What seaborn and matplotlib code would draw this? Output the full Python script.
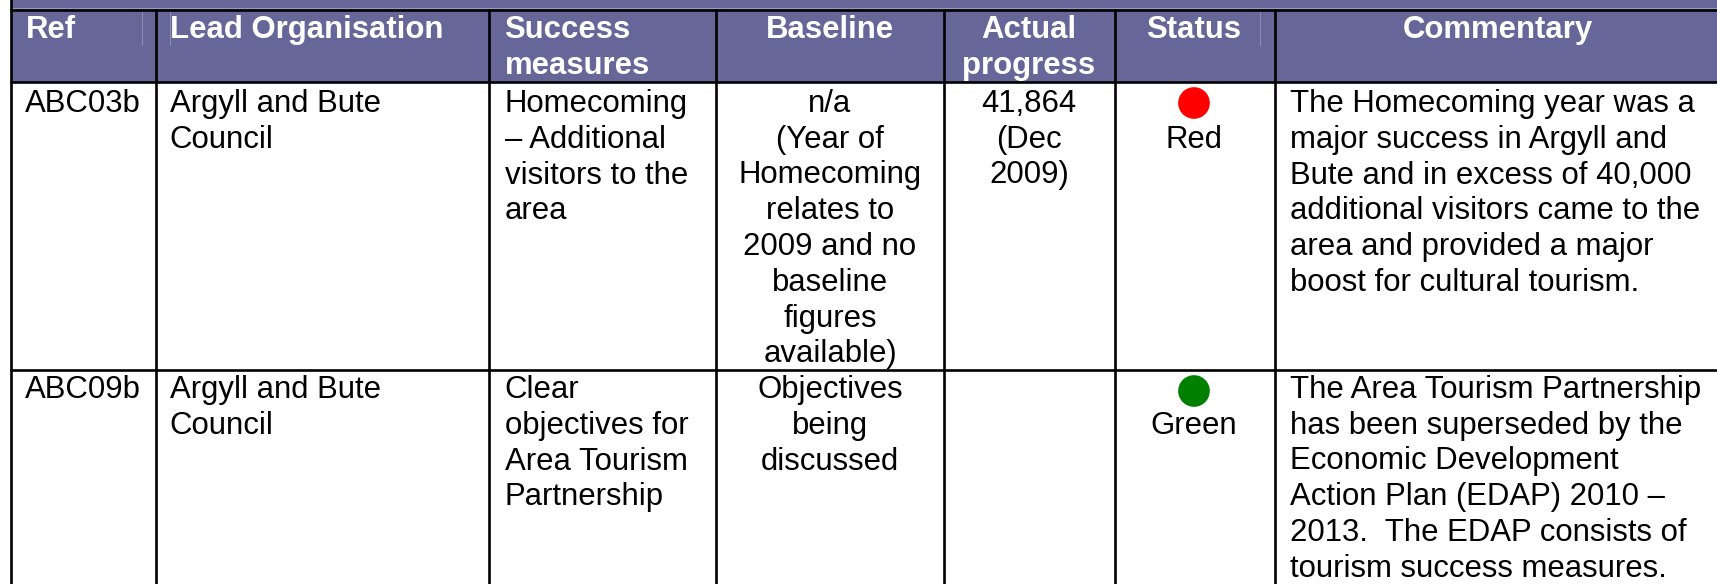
import matplotlib
matplotlib.use("Agg")
import matplotlib.pyplot as plt
import pandas as pd
import seaborn as sns

sns.set_theme(style="white")
plt.rcParams["font.family"] = ["Liberation Sans", "DejaVu Sans"]

refs = ["ABC03b", "ABC09b"]
orgs = ["Argyll and Bute\nCouncil", "Argyll and Bute\nCouncil"]
measures = ["Homecoming\n– Additional\nvisitors to the\narea",
            "Clear\nobjectives for\nArea Tourism\nPartnership"]
baselines = ["n/a\n(Year of\nHomecoming\nrelates to\n2009 and no\nbaseline\nfigures\navailable)",
             "Objectives\nbeing\ndiscussed"]
progress = ["41,864\n(Dec\n2009)", ""]
statuses = ["Red", "Green"]
status_colors = ["#ff0000", "#008000"]
comments = ["The Homecoming year was a\nmajor success in Argyll and\nBute and in excess of 40,000\nadditional visitors came to the\narea and provided a major\nboost for cultural tourism.",
            "The Area Tourism Partnership\nhas been superseded by the\nEconomic Development\nAction Plan (EDAP) 2010 –\n2013.  The EDAP consists of\ntourism success measures."]
headers = ["Ref", "Lead Organisation", "Success\nmeasures", "Baseline", "Actual\nprogress", "Status", "Commentary"]

W, H = 1717, 584
vlines = [11, 156, 489, 716, 944, 1115, 1275]
faint = [141.5, 169.5, 1260]
hlines = [10, 82, 370]
x_ref, x_org, x_meas, x_comm = 25, 169.5, 504.5, 1290
c_base, c_prog, c_stat, c_comm = 830, 1029, 1194, 1498
row_base = [112, 398]
dot_y = [103, 391]
head_base = 38
PITCH = 35.75
FS = 22.4
HEAD = "#666699"
LW = 1.9

fig = plt.figure(figsize=(W / 100, H / 100), dpi=100)
ax = fig.add_axes([0, 0, 1, 1])
ax.set_xlim(0, W)
ax.set_ylim(H, 0)
ax.axis("off")

ax.fill_between([vlines[0], W], 0, hlines[1], color=HEAD, lw=0, zorder=1)
ax.plot([vlines[0], W], [8.2, 8.2], color="#9999bb", lw=0.8, zorder=2)
for x in faint:
    ax.plot([x, x], [hlines[0], 45], color="#8f8fb5", lw=0.7, zorder=2)
for y in hlines:
    ax.plot([vlines[0], W], [y, y], color="black", lw=LW, zorder=3)
for x in vlines:
    ax.plot([x, x], [0 if x == vlines[0] else hlines[0], H], color="black", lw=LW, zorder=3)

def put(x, y, s, ha="left", color="black", weight="normal"):
    for i, line in enumerate(s.split("\n")):
        if line:
            ax.text(x, y + i * PITCH, line, fontsize=FS, va="baseline", ha=ha,
                    color=color, fontweight=weight, zorder=4)

header_pos = [(x_ref + 1, "left"), (x_org, "left"), (x_meas, "left"), (c_base, "center"),
              (c_prog, "center"), (c_stat, "center"), (c_comm, "center")]
for h, (x, ha) in zip(headers, header_pos):
    put(x, head_base, h, ha=ha, color="white", weight="bold")

for r in range(2):
    y = row_base[r]
    put(x_ref, y, refs[r])
    put(x_org, y, orgs[r])
    put(x_meas, y, measures[r])
    put(c_base, y, baselines[r], ha="center")
    put(c_prog, y, progress[r], ha="center")
    put(c_stat, y + PITCH, statuses[r], ha="center")
    put(x_comm, y, comments[r])

dots = pd.DataFrame({"x": [c_stat] * 2, "y": dot_y, "status": statuses})
sns.scatterplot(data=dots, x="x", y="y", hue="status", palette=dict(zip(statuses, status_colors)),
                s=520, marker="o", linewidth=0, legend=False, ax=ax, zorder=5)
ax.set_xlim(0, W)
ax.set_ylim(H, 0)
ax.axis("off")

fig.savefig("out.png", dpi=100, facecolor="white")
